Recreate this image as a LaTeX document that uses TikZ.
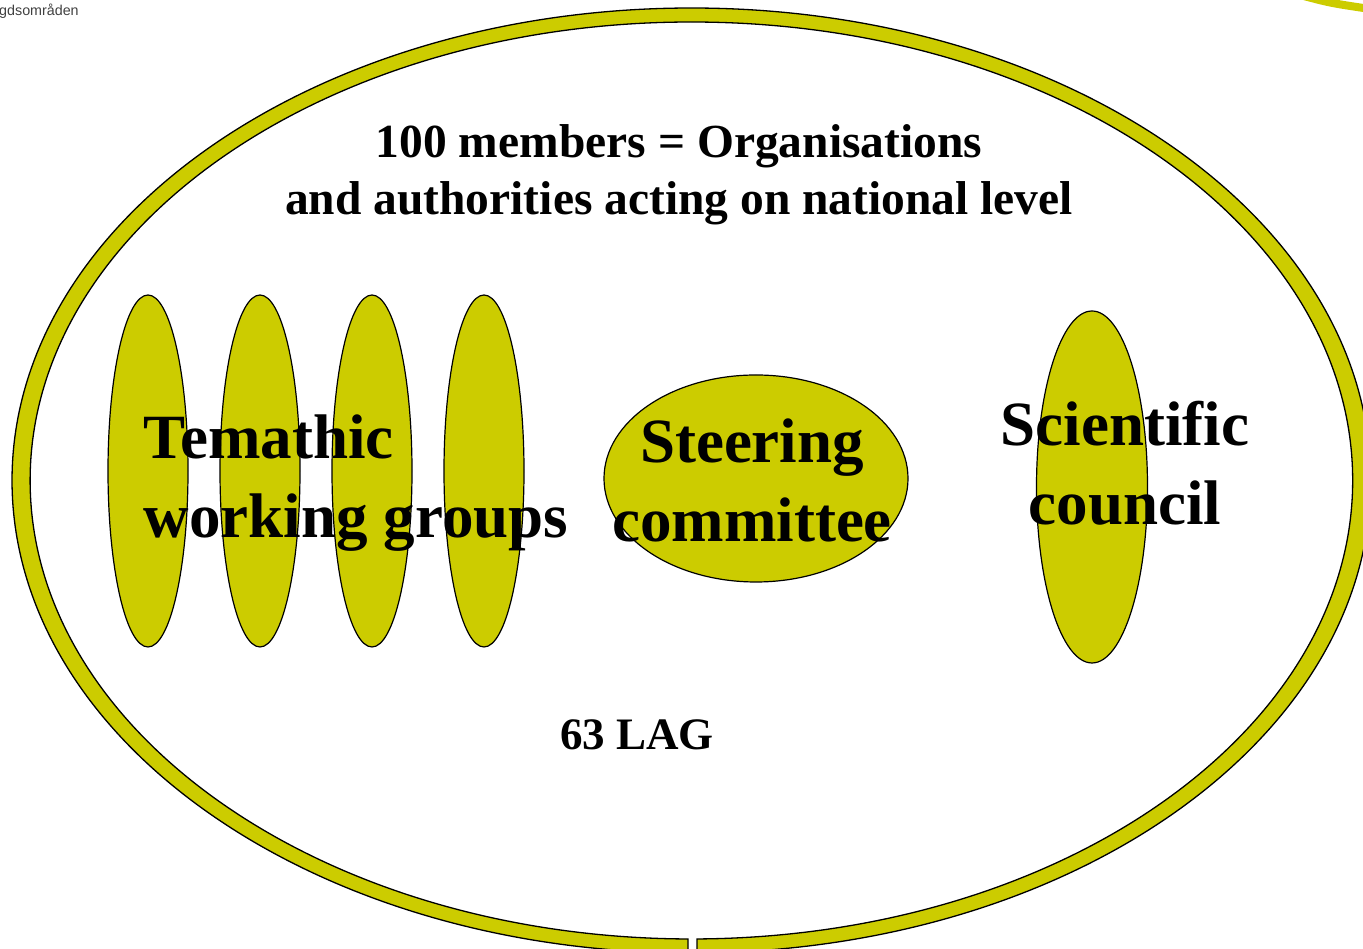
\documentclass[tikz,border=0pt]{standalone}
\usepackage{fontspec}
\setmainfont{Liberation Serif}
\newfontfamily\logosans{Liberation Sans}
\usetikzlibrary{shapes.geometric}
\definecolor{lagyellow}{HTML}{CCCC00}
\tikzset{
  groupblob/.style={ellipse, draw=black, fill=lagyellow, line width=1.2pt, inner sep=0pt},
  bigtext/.style={font=\fontsize{63}{79}\selectfont\bfseries, align=center},
  midtext/.style={font=\fontsize{47.5}{57}\selectfont\bfseries, align=center}
}
\begin{document}
\begin{tikzpicture}[x=1pt,y=1pt]
  \useasboundingbox (0,0) rectangle (1363,949);

  % Logo text and corner arc
  \node[anchor=west, inner sep=0pt, text=black!75, font=\logosans\fontsize{14.3}{16}\selectfont] (logo) at (-1,938) {gdsområden};
  \draw[lagyellow, line width=8pt] (1300,954) .. controls (1330,946) .. (1370,940);

  % Ring with gap at the bottom
  \coordinate (c) at (691.4,468.5);
  \filldraw[fill=lagyellow, draw=black, line width=1.3pt]
    ([shift={(270.47:679.4pt and 472.5pt)}]c)
      arc[start angle=270.47, end angle=629.71, x radius=679.4pt, y radius=472.5pt]
    -- ([shift={(269.71:661.3pt and 458.5pt)}]c)
      arc[start angle=629.71, end angle=270.49, x radius=661.3pt, y radius=458.5pt]
    -- cycle;

  % Working groups
  \foreach \x/\n in {148/1,260/2,372/3,484/4}
    \node[groupblob, minimum width=80pt, minimum height=352pt] (wg\n) at (\x,478) {};

  % Steering committee
  \node[groupblob, minimum width=304pt, minimum height=207pt] (steer) at (756,470.5) {};

  % Scientific council
  \node[groupblob, minimum width=111pt, minimum height=352pt] (sci) at (1092,462) {};

  % Texts
  \node[midtext] (members) at (679,774) {100 members = Organisations\\and authorities acting on national level};
  \node[bigtext, align=left] (wgtext) at (356,466) {Temathic\\working groups};
  \node[bigtext] (steertext) at (752,469) {Steering\\committee};
  \node[bigtext] (scitext) at (1125,486) {Scientific\\council};
  \node[midtext, font=\fontsize{45}{57}\selectfont\bfseries] (lag) at (637,214) {63 LAG};
\end{tikzpicture}
\end{document}
